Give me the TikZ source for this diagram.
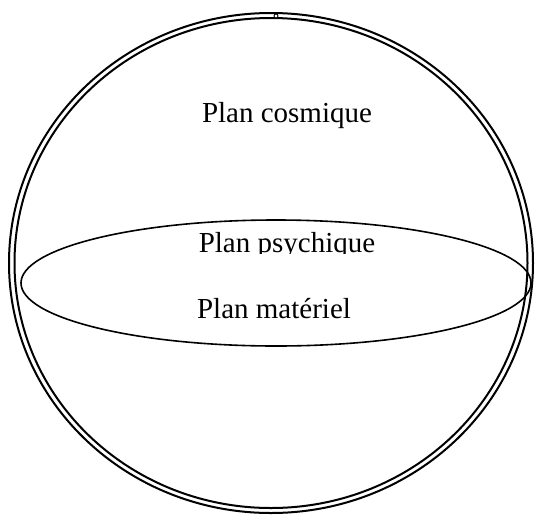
\documentclass[tikz,border=0pt]{standalone}
\usepackage{fontspec}
\setmainfont{Liberation Serif}
\begin{document}
\begin{tikzpicture}[x=1pt,y=-1pt,
  ring/.style={draw=black,line width=2pt},
  plane/.style={draw=black,line width=1.6pt},
  lbl/.style={inner sep=0pt,anchor=base,font=\fontsize{29}{34}\selectfont}]
\useasboundingbox (0,0) rectangle (536,515);
% double sphere outline
\coordinate (c) at (271,263);
\draw[ring] (c) ellipse [x radius=262, y radius=250];
\draw[ring] (c) ellipse [x radius=256.5, y radius=245];
% tiny mark at the top
\node[draw=black,fill=white,circle,inner sep=0pt,minimum size=4pt,line width=0.9pt] (mark) at (276,16) {};
% plane ellipse
\coordinate (e) at (276,283);
\draw[plane] (e) ellipse [x radius=255, y radius=63];
% labels
\node[lbl] (cosm) at (287,122) {Plan cosmique};
\begin{scope}
  \clip (0,0) rectangle (536,253);
  \node[lbl] (psy) at (287,252) {Plan psychique};
\end{scope}
\node[lbl] (mat) at (274,318) {Plan matériel};
\end{tikzpicture}
\end{document}
